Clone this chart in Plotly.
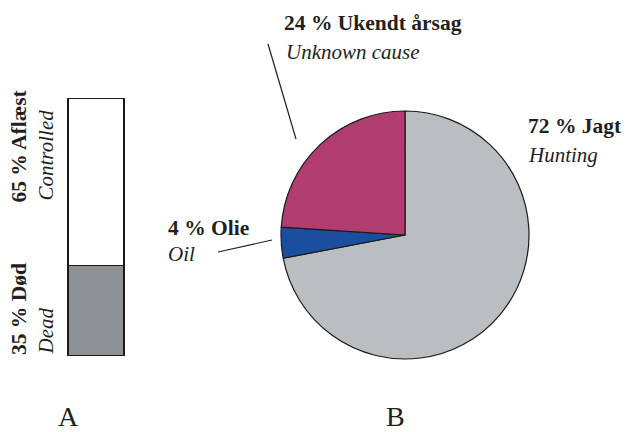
import plotly.graph_objects as go

# Data
bar_labels = ["Død", "Aflæst"]
bar_values = [35, 65]
bar_colors = ["#8e9193", "#ffffff"]

pie_labels = ["Jagt", "Olie", "Ukendt årsag"]
pie_values = [72, 4, 24]
pie_colors = ["#bbbec0", "#1a4e9e", "#b03c70"]

W, H = 632, 432
FONT = "Liberation Serif"

def px(x):
    return x / W

def py(y):
    return 1 - y / H

fig = go.Figure()

for lab, val, col in zip(bar_labels, bar_values, bar_colors):
    fig.add_trace(go.Bar(
        x=[0], y=[val], name=lab, marker=dict(color=col, line=dict(color="#1a1a1a", width=1.2)),
        width=1, showlegend=False, hoverinfo="skip", cliponaxis=False))

fig.add_trace(go.Pie(
    labels=pie_labels, values=pie_values, sort=False, direction="clockwise", rotation=0,
    marker=dict(colors=pie_colors, line=dict(color="#1a1a1a", width=1.2)),
    textinfo="none", showlegend=False, hoverinfo="skip",
    domain=dict(x=[px(281), px(529)], y=[py(359), py(111)])))

# bar: 56 px per x unit, 2.57 px per y unit; pad ranges so borders are not clipped
xpad, ypad = 0.06, 2.0
fig.update_layout(
    width=W, height=H, margin=dict(l=0, r=0, t=0, b=0),
    paper_bgcolor="white", plot_bgcolor="white", barmode="stack", bargap=0,
    xaxis=dict(domain=[px(69 - 56 * xpad), px(125 + 56 * xpad)], range=[-0.5 - xpad, 0.5 + xpad],
               visible=False, fixedrange=True),
    yaxis=dict(domain=[py(356), py(99 - 2.57 * ypad)], range=[0, 100 + ypad], visible=False, fixedrange=True),
    font=dict(family=FONT, color="#231f20"),
)

ann = []
def add(text, x, y, size=21, xanchor="left", yanchor="middle", angle=0):
    ann.append(dict(text=text, x=px(x), y=py(y), xref="paper", yref="paper", showarrow=False,
                    xanchor=xanchor, yanchor=yanchor, textangle=angle,
                    font=dict(family=FONT, size=size, color="#231f20")))

# Bar labels (rotated)
add("<b>65 % Aflæst</b>", 19, 205, size=21.5, xanchor="center", yanchor="bottom", angle=-90)
add("<i>Controlled</i>", 45, 203, size=21, xanchor="center", yanchor="bottom", angle=-90)
add("<b>35 % Død</b>", 19, 357, size=21.5, xanchor="center", yanchor="bottom", angle=-90)
add("<i>Dead</i>", 45, 357, size=21, xanchor="center", yanchor="bottom", angle=-90)

# Pie labels
add("<b>72 % Jagt</b>", 526, 126, size=21.5)
add("<i>Hunting</i>", 526, 155, size=21)
add("<b>24 % Ukendt årsag</b>", 282, 23, size=21.5)
add("<i>Unknown cause</i>", 284, 52, size=21)
add("<b>4 % Olie</b>", 166, 228, size=21.5)
add("<i>Oil</i>", 166, 254, size=21)

# Panel letters
add("A", 68, 416, size=28, xanchor="center")
add("B", 395, 416, size=28, xanchor="center")

fig.update_layout(annotations=ann)

shapes = [
    dict(type="line", xref="paper", yref="paper", x0=px(268), y0=py(44), x1=px(296), y1=py(139),
         line=dict(color="#231f20", width=1.2)),
    dict(type="line", xref="paper", yref="paper", x0=px(218), y0=py(252), x1=px(272), y1=py(240),
         line=dict(color="#231f20", width=1.2)),
]
fig.update_layout(shapes=shapes)

fig.write_html("out.html", config={"displayModeBar": False},
               post_script="document.body.style.margin='0';")
